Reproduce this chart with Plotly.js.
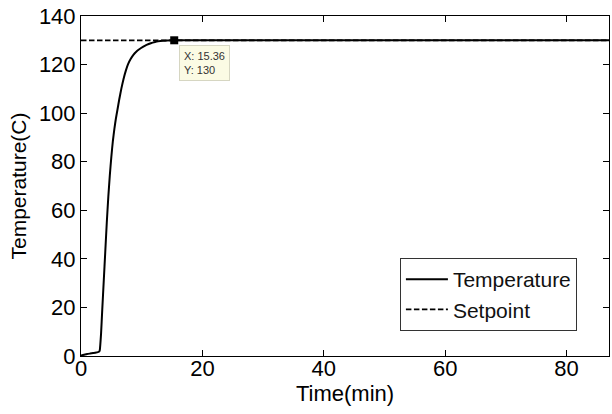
<!DOCTYPE html>
<html>
<head>
<meta charset="utf-8">
<script src="https://cdn.plot.ly/plotly-3.0.1.min.js"></script>
<style>html,body{margin:0;padding:0;background:#fff;}#chart{width:612px;height:414px;}</style>
</head>
<body>
<div id="chart"></div>
<script>
const timeMin = [0, 0.5, 1, 1.5, 2, 2.5, 2.8, 3.0, 3.1, 3.3, 3.5, 3.75, 4.0, 4.25, 4.5, 4.75, 5.0, 5.25, 5.5, 5.75, 6.0, 6.3, 6.64, 7.0, 7.4, 7.74, 8.2, 8.6, 9.1, 9.6, 10.2, 10.8, 11.5, 12.2, 12.7, 13.5, 14.2, 15.36, 87];
const temperature = [0.2, 0.5, 0.8, 1.0, 1.2, 1.4, 1.6, 1.8, 2.5, 9, 19, 31, 43, 55, 65.5, 74.5, 82, 88.5, 93.5, 97.8, 101.3, 105.6, 110, 114, 117.6, 120.1, 122.4, 123.9, 125.3, 126.3, 127.3, 128.1, 128.8, 129.3, 129.55, 129.8, 129.93, 130, 130];
const setpointTime = [0, 87];
const setpointValue = [130, 130];
const tipX = 15.36;
const tipY = 130;
const xTicks = [0, 20, 40, 60, 80];
const yTicks = [0, 20, 40, 60, 80, 100, 120, 140];

const font = 'Arial, "Liberation Sans", sans-serif';

const traces = [
  {x: setpointTime, y: setpointValue, mode: 'lines', name: 'Setpoint',
   line: {color: '#000', width: 1.8, dash: '5.5px,2.5px'}},
  {x: timeMin, y: temperature, mode: 'lines', name: 'Temperature',
   line: {color: '#000', width: 2, shape: 'spline', smoothing: 0.5}},
  {x: [tipX], y: [tipY], mode: 'markers', showlegend: false,
   marker: {symbol: 'square', size: 8, color: '#000'}}
];

const layout = {
  width: 612, height: 414,
  margin: {l: 81, r: 3, t: 16, b: 58},
  paper_bgcolor: '#fff', plot_bgcolor: '#fff',
  font: {family: font, size: 22, color: '#000'},
  showlegend: true,
  legend: {x: 0.604, y: 0.0735, xanchor: 'left', yanchor: 'bottom',
           bordercolor: '#333', borderwidth: 1, bgcolor: '#fff',
           traceorder: 'reversed', font: {size: 21, family: font, color: '#111'},
           tracegroupgap: 0, itemwidth: 42},
  xaxis: {range: [0, 87], tickvals: xTicks, ticktext: xTicks.map(String),
          ticks: 'inside', ticklen: 6, tickcolor: '#000', showline: true, linecolor: '#000',
          linewidth: 1, mirror: 'ticks', showgrid: false, zeroline: false,
          ticklabelstandoff: -7,
          title: {text: 'Time(min)', font: {size: 22, family: font}, standoff: 0}},
  yaxis: {range: [0, 140], tickvals: yTicks, ticktext: yTicks.map(String),
          ticks: 'inside', ticklen: 6, tickcolor: '#000', showline: true, linecolor: '#000',
          linewidth: 1, mirror: 'ticks', showgrid: false, zeroline: false,
          title: {text: 'Temperature(C)', font: {size: 21, family: font}, standoff: 6}},
  annotations: [{
    x: tipX, y: tipY, xref: 'x', yref: 'y', xanchor: 'left', yanchor: 'top',
    xshift: 5, yshift: -5, showarrow: false, align: 'left',
    text: 'X: ' + tipX + '<br>Y: ' + tipY,
    font: {size: 11, color: '#333', family: font},
    bgcolor: '#fbfbe4', bordercolor: '#d6d6c2', borderwidth: 1, borderpad: 4
  }]
};

Plotly.newPlot('chart', traces, layout, {displayModeBar: false, staticPlot: true});
</script>
</body>
</html>
